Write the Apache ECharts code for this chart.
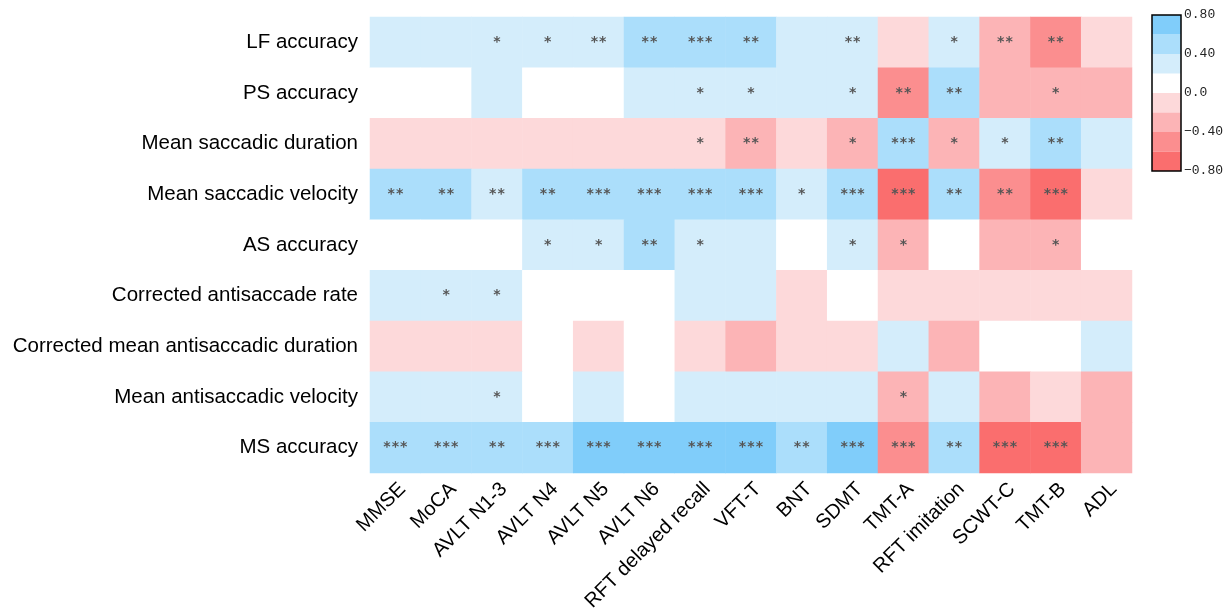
<!DOCTYPE html>
<html>
<head>
<meta charset="utf-8">
<script src="https://cdn.jsdelivr.net/npm/echarts@6/dist/echarts.min.js"></script>
<style>
  html, body { margin: 0; padding: 0; background: #fff; }
  #chart { width: 1229px; height: 614px; }
</style>
</head>
<body>
<div id="chart"></div>
<script>
// Cognitive test columns
const tests = ['MMSE', 'MoCA', 'AVLT N1-3', 'AVLT N4', 'AVLT N5', 'AVLT N6',
  'RFT delayed recall', 'VFT-T', 'BNT', 'SDMT', 'TMT-A', 'RFT imitation',
  'SCWT-C', 'TMT-B', 'ADL'];

// Eye-movement measures (top to bottom)
const measures = ['LF accuracy', 'PS accuracy', 'Mean saccadic duration',
  'Mean saccadic velocity', 'AS accuracy', 'Corrected antisaccade rate',
  'Corrected mean antisaccadic duration', 'Mean antisaccadic velocity', 'MS accuracy'];

// Correlation coefficients, one array per measure
const lfAccuracy   = [0.25, 0.26, 0.29, 0.30, 0.34, 0.42, 0.45, 0.41, 0.22, 0.35, -0.12, 0.28, -0.33, -0.42, -0.10];
const psAccuracy   = [0.12, 0.15, 0.21, 0.14, 0.16, 0.24, 0.28, 0.27, 0.22, 0.29, -0.41, 0.43, -0.25, -0.30, -0.22];
const saccDuration = [-0.15, -0.14, -0.13, -0.12, -0.16, -0.17, -0.19, -0.34, -0.12, -0.28, 0.48, -0.29, 0.27, 0.41, 0.24];
const saccVelocity = [0.41, 0.42, 0.36, 0.43, 0.47, 0.48, 0.50, 0.49, 0.26, 0.52, -0.66, 0.44, -0.44, -0.64, -0.13];
const asAccuracy   = [0.15, 0.14, 0.16, 0.28, 0.29, 0.41, 0.27, 0.23, 0.12, 0.30, -0.27, 0.10, -0.23, -0.29, 0.08];
const corrAsRate   = [0.24, 0.29, 0.28, 0.12, 0.10, 0.11, 0.23, 0.21, -0.13, 0.09, -0.18, -0.16, -0.15, -0.17, -0.12];
const corrAsDur    = [-0.16, -0.17, -0.18, 0.05, -0.14, 0.06, -0.17, -0.22, -0.15, -0.13, 0.21, -0.23, 0.12, 0.15, 0.22];
const antiVelocity = [0.23, 0.24, 0.29, 0.11, 0.22, 0.13, 0.25, 0.24, 0.21, 0.24, -0.28, 0.22, -0.25, -0.17, -0.24];
const msAccuracy   = [0.54, 0.56, 0.47, 0.55, 0.62, 0.63, 0.61, 0.64, 0.49, 0.66, -0.52, 0.45, -0.68, -0.66, -0.26];

// Significance markers, one array per measure
const lfStars   = ['', '', '*', '*', '**', '**', '***', '**', '', '**', '', '*', '**', '**', ''];
const psStars   = ['', '', '', '', '', '', '*', '*', '', '*', '**', '**', '', '*', ''];
const sdStars   = ['', '', '', '', '', '', '*', '**', '', '*', '***', '*', '*', '**', ''];
const svStars   = ['**', '**', '**', '**', '***', '***', '***', '***', '*', '***', '***', '**', '**', '***', ''];
const asStars   = ['', '', '', '*', '*', '**', '*', '', '', '*', '*', '', '', '*', ''];
const carStars  = ['', '*', '*', '', '', '', '', '', '', '', '', '', '', '', ''];
const cadStars  = ['', '', '', '', '', '', '', '', '', '', '', '', '', '', ''];
const avStars   = ['', '', '*', '', '', '', '', '', '', '', '*', '', '', '', ''];
const msStars   = ['***', '***', '**', '***', '***', '***', '***', '***', '**', '***', '***', '**', '***', '***', ''];

// Colour scale bins
const binEdges  = [-0.8, -0.6, -0.4, -0.2, 0, 0.2, 0.4, 0.6, 0.8];
const binColors = ['#fa6e6e', '#fb8e8f', '#fcb4b6', '#fdd9da', '#ffffff', '#d4edfb', '#abdefb', '#80cdfa'];
const scaleTicks = [-0.8, -0.4, 0, 0.4, 0.8];

const values = [lfAccuracy, psAccuracy, saccDuration, saccVelocity, asAccuracy,
  corrAsRate, corrAsDur, antiVelocity, msAccuracy];
const stars = [lfStars, psStars, sdStars, svStars, asStars, carStars, cadStars, avStars, msStars];

const heatData = [];
values.forEach((row, r) => row.forEach((v, c) => heatData.push([c, r, v])));

const pieces = binColors.map((color, i) => {
  const p = { gte: binEdges[i], color };
  if (i === binColors.length - 1) p.lte = binEdges[i + 1]; else p.lt = binEdges[i + 1];
  return p;
});

// Colour bar: stacked bars, positives upward from 0, negatives downward
const barSeries = [];
const zeroIdx = binEdges.indexOf(0);
for (let i = zeroIdx; i < binColors.length; i++) {
  barSeries.push({ lo: binEdges[i], hi: binEdges[i + 1], color: binColors[i] });
}
for (let i = zeroIdx - 1; i >= 0; i--) {
  barSeries.push({ lo: binEdges[i + 1], hi: binEdges[i], color: binColors[i] });
}

const fmtTick = v => {
  if (Math.abs(v) < 1e-9) return '0.0';
  const s = Math.abs(v).toFixed(2);
  return (v < 0 ? '\u2212' : '') + s;
};

const chart = echarts.init(document.getElementById('chart'));
chart.setOption({
  animation: false,
  backgroundColor: '#fff',
  grid: [
    { left: 370, right: 97, top: 17, bottom: 141 },
    { left: 1152, width: 29, top: 15, height: 156, show: true, z: 10,
      backgroundColor: 'transparent', borderColor: '#000', borderWidth: 1.5 }
  ],
  xAxis: [
    {
      gridIndex: 0, type: 'category', data: tests,
      axisLine: { show: false }, axisTick: { show: false }, splitLine: { show: false },
      axisLabel: { rotate: 45, interval: 0, margin: 6, color: '#000', fontSize: 20,
        verticalAlign: 'top',
        fontFamily: 'Liberation Sans, Arial, sans-serif' }
    },
    { gridIndex: 1, type: 'category', data: [''], show: false }
  ],
  yAxis: [
    {
      gridIndex: 0, type: 'category', data: measures, inverse: true,
      axisLine: { show: false }, axisTick: { show: false }, splitLine: { show: false },
      axisLabel: { margin: 12, color: '#000', fontSize: 20.5,
        fontFamily: 'Liberation Sans, Arial, sans-serif' }
    },
    {
      gridIndex: 1, type: 'value', position: 'right',
      min: scaleTicks[0], max: scaleTicks[scaleTicks.length - 1], interval: 0.4,
      axisLine: { show: false }, axisTick: { show: false }, splitLine: { show: false },
      axisLabel: { margin: 3, color: '#222', fontSize: 13,
        fontFamily: 'Liberation Mono, monospace', formatter: fmtTick }
    }
  ],
  visualMap: {
    type: 'piecewise', show: false, seriesIndex: 0, dimension: 2, pieces
  },
  series: [
    {
      type: 'heatmap', xAxisIndex: 0, yAxisIndex: 0, data: heatData,
      label: {
        show: true, color: '#555', fontSize: 14, fontWeight: 'bold',
        fontFamily: 'DejaVu Sans Mono, monospace',
        formatter: p => stars[p.data[1]][p.data[0]]
      },
      itemStyle: { borderWidth: 0 },
      emphasis: { disabled: true }
    },
    ...barSeries.map(b => ({
      type: 'bar', xAxisIndex: 1, yAxisIndex: 1, stack: 'scale',
      barWidth: '100%', silent: true,
      data: [+(b.hi - b.lo).toFixed(4)],
      itemStyle: { color: b.color }
    }))
  ]
});
</script>
</body>
</html>
